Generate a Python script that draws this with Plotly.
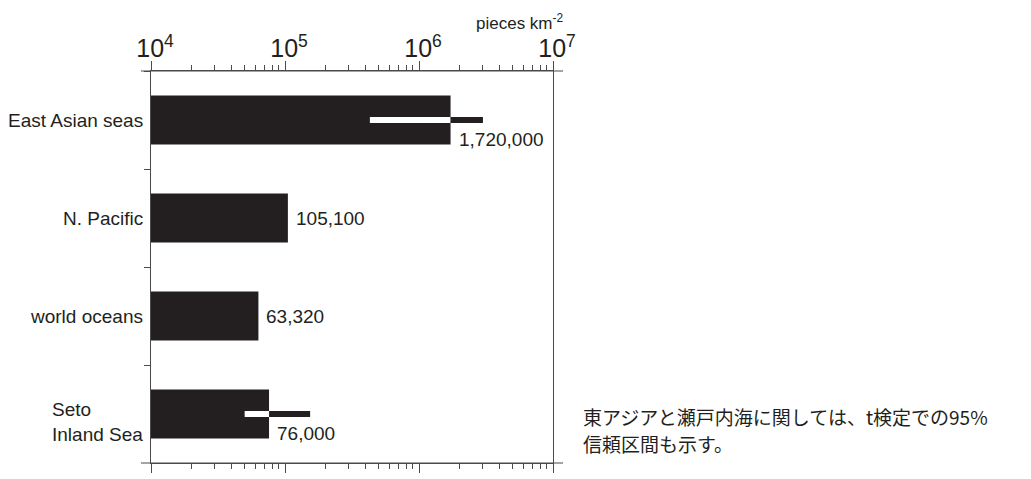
import math
import plotly.graph_objects as go

categories = ["East Asian seas", "N. Pacific", "world oceans", "Seto<br>Inland Sea"]
values = [1720000, 105100, 63320, 76000]
value_labels = ["1,720,000", "105,100", "63,320", "76,000"]
ci_low = [430000, None, None, 50000]
ci_high = [3000000, None, None, 154000]
label_align = ["right", "right", "right", "left"]
x_title = "pieces km<sup>-2</sup>"
note_lines = ["東アジアと瀬戸内海に関しては、t検定での95%", "信頼区間も示す。"]

INK = "#231f20"
AXIS = "#4a4a4a"
FONT = "Liberation Sans, Arial, sans-serif"

W, H = 1031, 479
ml, mr, mt, mb = 151, 478, 71, 6
pw, ph = W - ml - mr, H - mt - mb

fig = go.Figure()
fig.add_trace(go.Bar(
    x=values, y=categories, orientation="h", width=0.5,
    marker=dict(color=INK, line=dict(width=0)), showlegend=False,
))

for cat, v, lo, hi in zip(categories, values, ci_low, ci_high):
    if lo is None:
        continue
    fig.add_trace(go.Scatter(x=[lo, v], y=[cat, cat], mode="lines",
                             line=dict(color="white", width=6), showlegend=False))
    fig.add_trace(go.Scatter(x=[v, hi], y=[cat, cat], mode="lines",
                             line=dict(color=INK, width=6), showlegend=False))

annotations = []
for cat, v, txt, lo in zip(categories, values, value_labels, ci_low):
    annotations.append(dict(
        x=math.log10(v), y=cat, xref="x", yref="y", text=txt, showarrow=False,
        xanchor="left", yanchor="middle", xshift=6, yshift=(-19 if lo is not None else 0),
        font=dict(family=FONT, size=19, color=INK),
    ))
for cat, al in zip(categories, label_align):
    annotations.append(dict(
        x=0, y=cat, xref="paper", yref="y", text=cat, showarrow=False,
        xanchor="right", yanchor="middle", xshift=-6, align=al,
        yshift=(-8 if "<br>" in cat else 0),
        font=dict(family=FONT, size=19, color=INK),
    ))
annotations.append(dict(
    x=1, y=1, xref="paper", yref="paper", text=x_title, showarrow=False,
    xanchor="right", yanchor="middle", yshift=49, xshift=12,
    font=dict(family=FONT, size=17, color=INK),
))
for i, line in enumerate(note_lines):
    ypix = 425 + 28 * i
    annotations.append(dict(
        x=(581 - ml) / pw, y=(H - mb - ypix) / ph, xref="paper", yref="paper",
        text=line, showarrow=False, xanchor="left", yanchor="middle",
        font=dict(family="Noto Sans CJK JP", size=19, color=INK),
    ))

fig.update_layout(
    width=W, height=H,
    margin=dict(l=ml, r=mr, t=mt, b=mb, pad=0),
    paper_bgcolor="white", plot_bgcolor="white",
    annotations=annotations,
    xaxis=dict(
        type="log", range=[4, 7], side="top", dtick=1, exponentformat="power",
        ticks="outside", ticklen=9, tickcolor=AXIS, tickwidth=1,
        ticklabelshift=4, ticklabelstandoff=-5,
        showline=True, linecolor=AXIS, linewidth=1, mirror="allticks",
        showgrid=False, zeroline=False,
        tickfont=dict(family=FONT, size=20, color=INK),
        minor=dict(ticks="outside", ticklen=5, tickcolor=AXIS, dtick="D1", showgrid=False),
    ),
    yaxis=dict(
        type="category", autorange="reversed", tickson="boundaries",
        ticks="outside", ticklen=6, tickcolor=AXIS,
        showline=True, linecolor=AXIS, linewidth=1, mirror=True,
        showticklabels=False, showgrid=False, zeroline=False,
    ),
    shapes=[
        dict(type="line", xref="paper", yref="paper", x0=-0.025, x1=1.025, y0=1, y1=1,
             line=dict(color=AXIS, width=1)),
        dict(type="line", xref="paper", yref="paper", x0=-0.025, x1=1.025, y0=0, y1=0,
             line=dict(color=AXIS, width=1)),
    ],
)

fig.write_html("out.html")
